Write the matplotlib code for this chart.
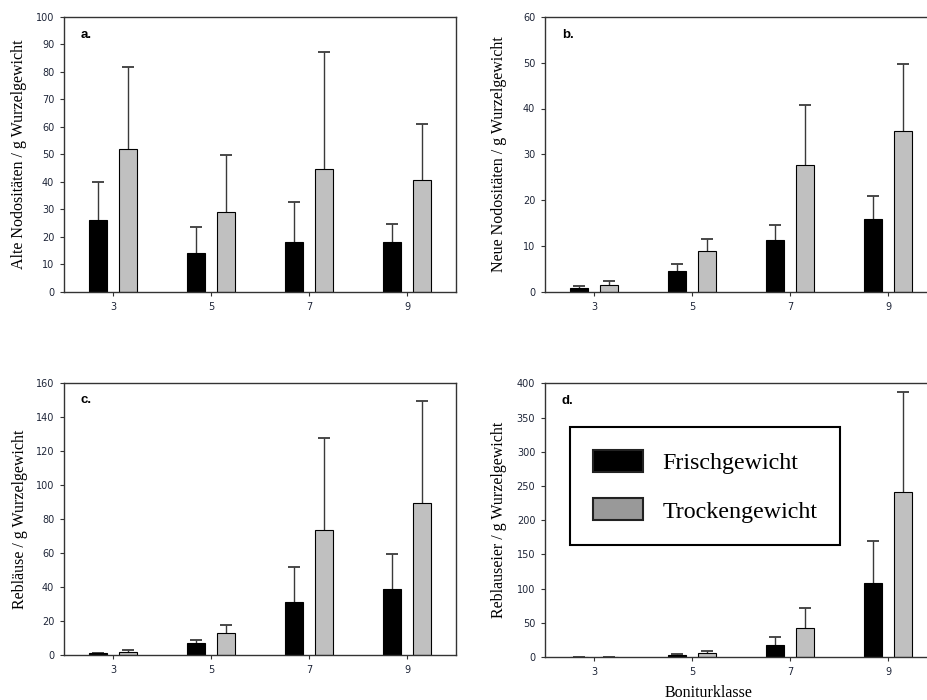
import numpy as np
import matplotlib.pyplot as plt
from matplotlib.patches import Patch


klassen = [3, 5, 7, 9]

alte_frisch = [26.3, 14.3, 18.2, 18.2]
alte_frisch_err = [13.5, 9.2, 14.3, 6.5]
alte_trocken = [52.1, 29.2, 44.6, 40.8]
alte_trocken_err = [29.7, 20.5, 42.6, 20.4]

neue_frisch = [0.8, 4.5, 11.4, 15.9]
neue_frisch_err = [0.4, 1.5, 3.2, 5.1]
neue_trocken = [1.6, 8.9, 27.6, 35.2]
neue_trocken_err = [0.8, 2.7, 13.1, 14.4]

laeuse_frisch = [1.0, 6.9, 30.9, 38.6]
laeuse_frisch_err = [0.4, 2.1, 20.8, 20.7]
laeuse_trocken = [2.0, 13.1, 73.2, 89.1]
laeuse_trocken_err = [1.1, 4.7, 54.5, 60.3]

eier_frisch = [0.3, 3.4, 18.0, 108.7]
eier_frisch_err = [0.2, 1.0, 10.6, 60.3]
eier_trocken = [0.3, 5.3, 42.7, 241.0]
eier_trocken_err = [0.2, 3.4, 29.1, 147.0]

panel_labels = ["a.", "b.", "c.", "d."]
y_labels = [
    "Alte Nodositäten / g Wurzelgewicht",
    "Neue Nodositäten / g Wurzelgewicht",
    "Rebläuse / g Wurzelgewicht",
    "Reblauseier / g Wurzelgewicht",
]
y_limits = [100, 60, 160, 400]
y_steps = [10, 10, 20, 50]

series = [
    (alte_frisch, alte_frisch_err, alte_trocken, alte_trocken_err),
    (neue_frisch, neue_frisch_err, neue_trocken, neue_trocken_err),
    (laeuse_frisch, laeuse_frisch_err, laeuse_trocken, laeuse_trocken_err),
    (eier_frisch, eier_frisch_err, eier_trocken, eier_trocken_err),
]

# Axes rectangles in figure fractions (panel b and d run past the right edge)
positions = [
    [0.069, 0.583, 0.4224, 0.393],
    [0.5873, 0.583, 0.4224, 0.393],
    [0.069, 0.0643, 0.4224, 0.389],
    [0.5873, 0.0614, 0.4224, 0.391],
]
ylabel_x = [-0.094, -0.097, -0.092, -0.097]

tick_color = "#1e2538"
err_color = "#3a3a3a"

fig = plt.figure(figsize=(9.28, 7.0), dpi=100)

x = np.array(klassen)
offset = 0.3
width = 0.37


def upper_errors(ax, xpos, values, errs):
    # Vertical line from the bar top up, with a cap only at the upper end
    tops = np.array(values) + np.array(errs)
    ax.vlines(xpos, values, tops, color=err_color, linewidth=1, zorder=1)
    ax.plot(xpos, tops, linestyle="none", marker="_", markersize=9,
            markeredgewidth=1.3, color=err_color, zorder=1)


for i in range(4):
    ax = fig.add_axes(positions[i])
    frisch, frisch_err, trocken, trocken_err = series[i]

    ax.bar(x - offset, frisch, width, color="black", edgecolor="black",
           linewidth=0.8, zorder=2)
    ax.bar(x + offset, trocken, width, color="#c0c0c0", edgecolor="black",
           linewidth=0.8, zorder=2)

    upper_errors(ax, x - offset, frisch, frisch_err)
    upper_errors(ax, x + offset, trocken, trocken_err)

    ax.set_xlim(2, 10)
    ax.set_ylim(0, y_limits[i])
    ax.set_xticks(klassen)
    ax.set_yticks(np.arange(0, y_limits[i] + 1, y_steps[i]))

    ax.tick_params(direction="out", length=3, width=0.8, labelsize=7,
                   colors="#333333", labelcolor=tick_color, pad=4)
    for s in ax.spines.values():
        s.set_linewidth(1.0)
        s.set_color("#333333")

    ax.set_ylabel(y_labels[i], family="Liberation Serif", fontsize=11.5)
    ax.yaxis.set_label_coords(ylabel_x[i], 0.5)

    ax.text(0.043, 0.935, panel_labels[i], transform=ax.transAxes,
            fontsize=9.5, fontweight="bold", family="Liberation Sans",
            va="center", ha="left")

    if i == 3:
        ax.set_xlabel("Boniturklasse", family="Liberation Serif", fontsize=11.5)
        ax.xaxis.set_label_coords(0.418, -0.102)
        handles = [
            Patch(facecolor="black", edgecolor="#222222", linewidth=1.5),
            Patch(facecolor="#999999", edgecolor="#222222", linewidth=1.5),
        ]
        leg = ax.legend(handles, ["Frischgewicht", "Trockengewicht"],
                        loc="upper left", bbox_to_anchor=(0.064, 0.84),
                        prop={"family": "Liberation Serif", "size": 17.3},
                        frameon=True, fancybox=False, edgecolor="black",
                        framealpha=1, handlelength=2.08, handleheight=1.04,
                        handletextpad=0.8, labelspacing=1.0,
                        borderpad=0.95, borderaxespad=0)
        leg.get_frame().set_linewidth(1.5)

fig.savefig("out.png", dpi=100)
